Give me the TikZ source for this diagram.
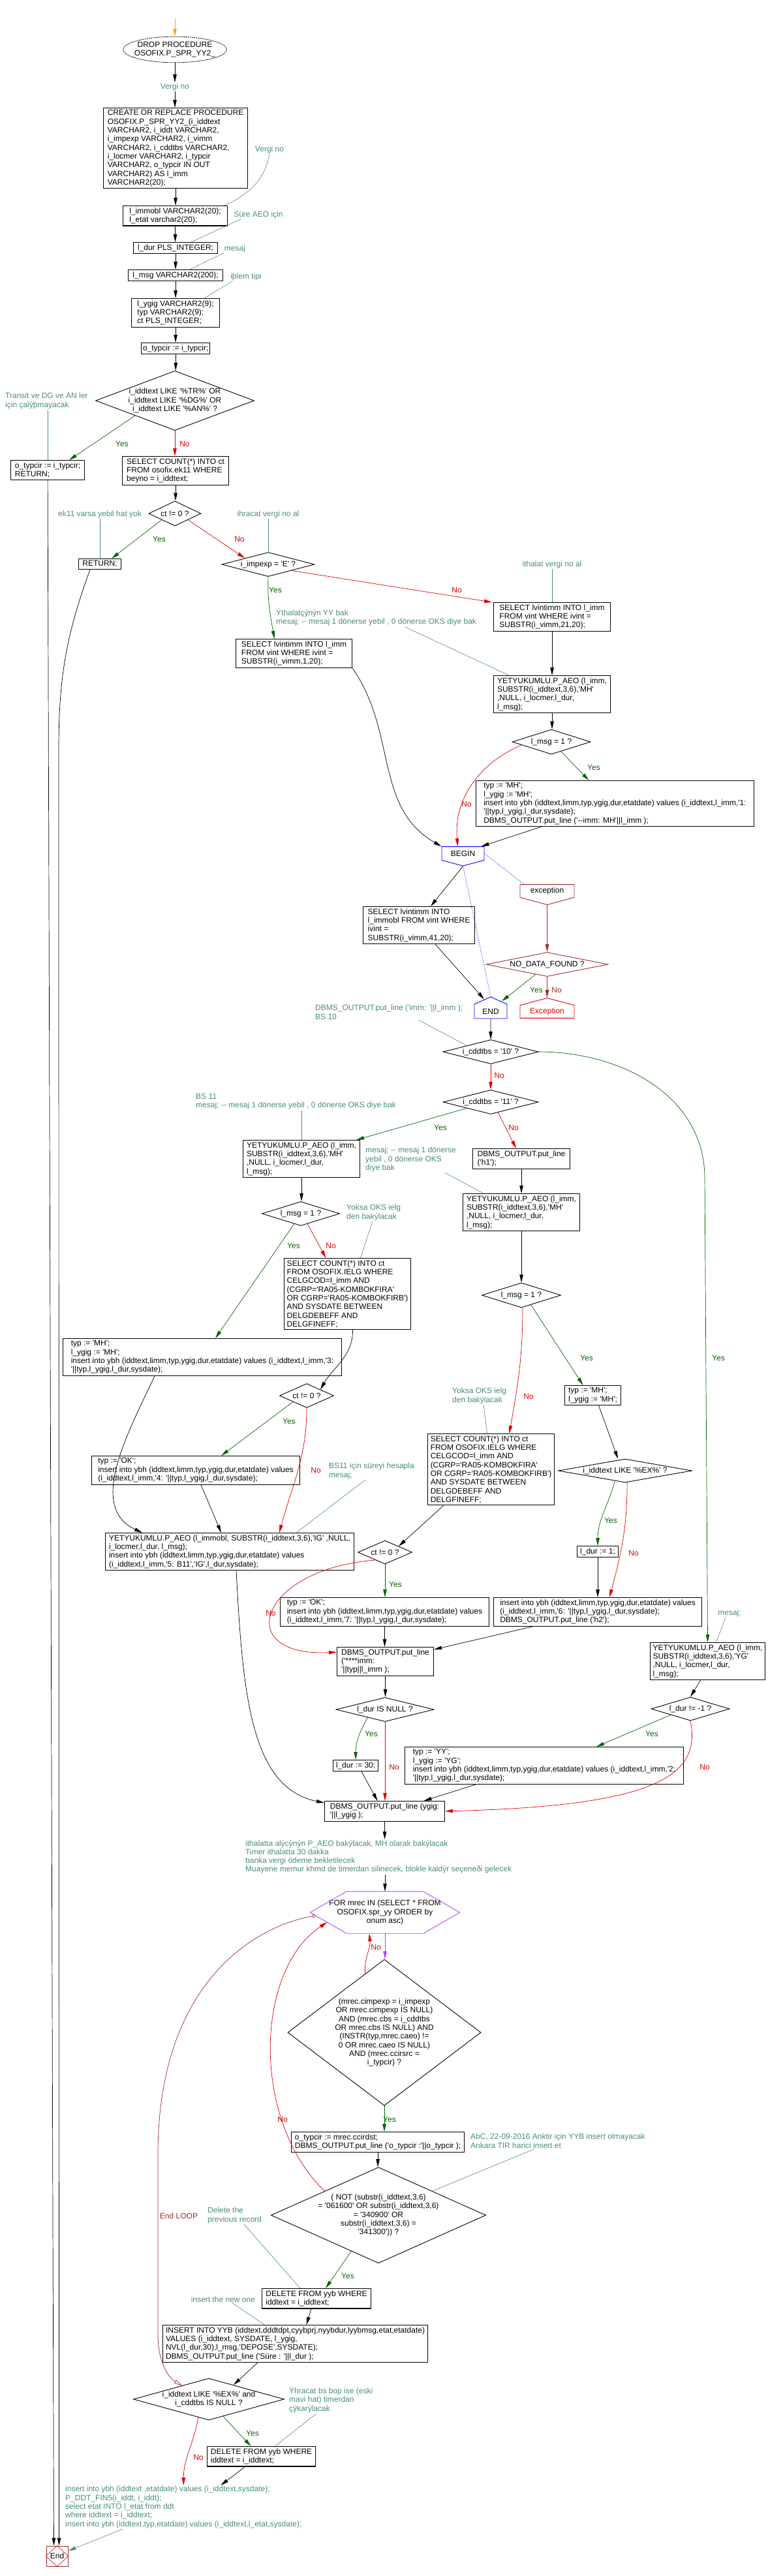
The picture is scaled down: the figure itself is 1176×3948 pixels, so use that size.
\documentclass[tikz,border=0pt]{standalone}
\usepackage{fontspec}
\setmainfont{Liberation Sans}[Ligatures=TeXOff]
\usetikzlibrary{arrows.meta,shapes.geometric,shapes.symbols}
\newcommand\fs{\fontsize{12}{13.3}\selectfont}
\definecolor{notec}{RGB}{72,140,118}
\definecolor{yesc}{RGB}{0,100,0}
\definecolor{noc}{RGB}{220,0,0}
\definecolor{excc}{RGB}{160,40,40}
\definecolor{forc}{RGB}{170,70,255}
\definecolor{startc}{RGB}{255,165,0}
\tikzset{
  box/.style={draw, line width=1.1pt, anchor=north west, align=left, inner xsep=2.5pt, inner ysep=3pt, font=\fs},
  dec/.style={draw, diamond, line width=0.9pt, align=center, inner sep=0pt, font=\fs},
  drop/.style={draw, ellipse, dash pattern=on 2pt off 1pt, line width=0.8pt, align=center, inner xsep=-6pt, inner ysep=2pt, font=\fs},
  pent/.style={signal, signal pointer angle=150, line width=0.9pt, inner sep=1pt, font=\fs},
  note/.style={text=notec, align=left, inner sep=1pt, font=\fs},
  lab/.style={inner sep=1pt, font=\fs},
  ylab/.style={lab, text=yesc},
  nlab/.style={lab, text=noc},
  flow/.style={-{Triangle[length=12pt,width=5.5pt]}, line width=0.7pt},
  yflow/.style={flow, draw=yesc},
  nflow/.style={flow, draw=noc},
  exflow/.style={flow, draw=excc},
  forflow/.style={flow, draw=forc},
  noteflow/.style={flow, draw=notec, line width=0.6pt},
  noteline/.style={draw=notec, line width=0.6pt},
  bdot/.style={draw=blue, dotted, line width=0.9pt},
  loopflow/.style={{Circle[open,length=5pt]}-{Triangle[open,length=12pt,width=6pt]}, draw=excc, line width=0.7pt}
}
\begin{document}
\begin{tikzpicture}[x=1pt,y=1pt]
        \useasboundingbox (0,0) rectangle (1176,-3948);
        \coordinate (start) at (268,-29);
        \coordinate (ygturn) at (1080,-1800);
        \coordinate (loopa) at (242,-3300);
        \coordinate (loopb) at (242,-3580);
        \coordinate (retb) at (90,-1150);
        \node[drop] (drop) at (268,-76) {DROP PROCEDURE\\OSOFIX.P\_SPR\_YY2\_};
        \node[note] (cverg1) at (268,-133) {Vergi no};
        \node[box, minimum width=221] (create) at (158,-165) {CREATE OR REPLACE PROCEDURE\\OSOFIX.P\_SPR\_YY2\_(i\_iddtext\\VARCHAR2, i\_iddt VARCHAR2,\\i\_impexp VARCHAR2, i\_vimm\\VARCHAR2, i\_cddtbs VARCHAR2,\\i\_locmer VARCHAR2, i\_typcir\\VARCHAR2, o\_typcir IN OUT\\VARCHAR2) AS l\_imm\\VARCHAR2(20);};
        \node[note] (cverg2) at (413,-229) {Vergi no};
        \node[box, minimum width=160] (immobl) at (188,-315) {l\_immobl VARCHAR2(20);\\l\_etat varchar2(20);};
        \node[note] (cdur) at (396,-329) {Süre AEO için};
        \node[box, minimum width=129] (ldur) at (204,-371) {l\_dur PLS\_INTEGER;};
        \node[note] (cmesaj) at (360,-381) {mesaj};
        \node[box, minimum width=145] (lmsg) at (196,-413) {l\_msg VARCHAR2(200);};
        \node[note] (ctip) at (377,-424) {iþlem tipi};
        \node[box, minimum width=135] (decl) at (201,-457) {l\_ygig VARCHAR2(9);\\typ VARCHAR2(9);\\ct PLS\_INTEGER;};
        \node[box, minimum width=105] (otyp) at (216,-525) {o\_typcir := i\_typcir;};
        \node[dec, minimum width=239, minimum height=90, aspect=2.66] (dtr) at (268,-614) {i\_iddtext LIKE '\%TR\%' OR\\i\_iddtext LIKE '\%DG\%' OR\\i\_iddtext LIKE '\%AN\%' ?};
        \node[note, anchor=north west] (ctransit) at (7,-601) {Transit ve DG ve AN ler\\için çalýþmayacak};
        \node[box, minimum width=113] (ret1) at (16,-705) {o\_typcir := i\_typcir;\\RETURN;};
        \node[box, minimum width=163] (cnt1) at (187,-699) {SELECT COUNT(*) INTO ct\\FROM osofix.ek11 WHERE\\beyno = i\_iddtext;};
        \node[dec, minimum width=80, minimum height=38, aspect=2.1] (dct1) at (268,-787) {ct != 0 ?};
        \node[note] (cek11) at (153,-788) {ek11 varsa yebil hat yok};
        \node[box, minimum width=65] (ret2) at (120,-856) {RETURN;};
        \node[dec, minimum width=142, minimum height=37, aspect=3.84] (dimp) at (411,-865) {i\_impexp = 'E' ?};
        \node[note] (cihr) at (411,-788) {ihracat vergi no al};
        \node[note] (cith) at (846,-865) {ithalat vergi no al};
        \node[box, minimum width=179] (sel21) at (756,-923) {SELECT lvintimm INTO l\_imm\\FROM vint WHERE ivint =\\SUBSTR(i\_vimm,21,20);};
        \node[note, anchor=north west] (cyy) at (422,-932) {Ýthalatçýnýn YY bak\\mesaj; -- mesaj 1 dönerse yebil , 0 dönerse OKS diye bak};
        \node[box, minimum width=178] (sel1) at (361,-979) {SELECT lvintimm INTO l\_imm\\FROM vint WHERE ivint =\\SUBSTR(i\_vimm,1,20);};
        \node[box, minimum width=179] (aeo1) at (756,-1035) {YETYUKUMLU.P\_AEO (l\_imm,\\SUBSTR(i\_iddtext,3,6),'MH'\\,NULL, i\_locmer,l\_dur,\\l\_msg);};
        \node[dec, minimum width=120, minimum height=38, aspect=3.16] (dmsg1) at (845,-1137) {l\_msg = 1 ?};
        \node[box, minimum width=426] (typ1) at (729,-1196) {typ := 'MH';\\l\_ygig := 'MH';\\insert into ybh (iddtext,limm,typ,ygig,dur,etatdate) values (i\_iddtext,l\_imm,'1:\\'||typ,l\_ygig,l\_dur,sysdate);\\DBMS\_OUTPUT.put\_line ('--imm: MH'||l\_imm );};
        \node[pent, signal to=south, draw=blue, minimum width=65, minimum height=26] (beginn) at (709.5,-1308) {BEGIN};
        \node[pent, signal to=south, draw=excc, minimum width=83, minimum height=27] (exc) at (838.5,-1365.5) {exception};
        \node[box, minimum width=171] (sel41) at (556,-1389) {SELECT lvintimm INTO\\l\_immobl FROM vint WHERE\\ivint =\\SUBSTR(i\_vimm,41,20);};
        \node[dec, draw=excc, minimum width=187, minimum height=37, aspect=5.05] (ndf) at (838.5,-1478) {NO\_DATA\_FOUND ?};
        \node[pent, signal to=north, signal pointer angle=132, draw=blue, minimum width=50, minimum height=28] (endn) at (752,-1550) {END};
        \node[pent, signal to=north, draw=noc, text=noc, minimum width=83, minimum height=27] (excend) at (838.5,-1550.5) {Exception};
        \node[note, anchor=north west] (cbs10) at (482,-1539) {DBMS\_OUTPUT.put\_line ('imm: '||l\_imm );\\BS 10};
        \node[dec, minimum width=146, minimum height=37, aspect=3.95] (d10) at (752,-1612) {i\_cddtbs = '10' ?};
        \node[dec, minimum width=146, minimum height=37, aspect=3.95] (d11) at (752,-1689) {i\_cddtbs = '11' ?};
        \node[note, anchor=north west] (cbs11) at (299,-1675) {BS 11\\mesaj; -- mesaj 1 dönerse yebil , 0 dönerse OKS diye bak};
        \node[box, minimum width=179] (aeo2) at (372,-1747) {YETYUKUMLU.P\_AEO (l\_imm,\\SUBSTR(i\_iddtext,3,6),'MH'\\,NULL, i\_locmer,l\_dur,\\l\_msg);};
        \node[box, minimum width=149] (h1) at (724,-1760) {DBMS\_OUTPUT.put\_line\\('h1');};
        \node[note, anchor=north west] (cmesaj3) at (559,-1757) {mesaj; -- mesaj 1 dönerse\\yebil , 0 dönerse OKS\\diye bak};
        \node[box, minimum width=179] (aeo3) at (709,-1829) {YETYUKUMLU.P\_AEO (l\_imm,\\SUBSTR(i\_iddtext,3,6),'MH'\\,NULL, i\_locmer,l\_dur,\\l\_msg);};
        \node[dec, minimum width=119, minimum height=37, aspect=3.2] (dmsg2) at (461,-1860) {l\_msg = 1 ?};
        \node[note, anchor=north west] (coks1) at (530,-1845) {Yoksa OKS ielg\\den bakýlacak};
        \node[box, minimum width=194] (cnt2) at (435,-1928) {SELECT COUNT(*) INTO ct\\FROM OSOFIX.IELG WHERE\\CELGCOD=l\_imm AND\\(CGRP='RA05-KOMBOKFIRA'\\OR CGRP='RA05-KOMBOKFIRB')\\AND SYSDATE BETWEEN\\DELGDEBEFF AND\\DELGFINEFF;};
        \node[dec, minimum width=121, minimum height=38, aspect=3.18] (dmsg3) at (799,-1985) {l\_msg = 1 ?};
        \node[box, minimum width=427] (typ3) at (96,-2051) {typ := 'MH';\\l\_ygig := 'MH';\\insert into ybh (iddtext,limm,typ,ygig,dur,etatdate) values (i\_iddtext,l\_imm,'3:\\'||typ,l\_ygig,l\_dur,sysdate);};
        \node[box, minimum width=86] (typ5) at (865,-2123) {typ := 'MH';\\l\_ygig := 'MH';};
        \node[note, anchor=north west] (coks2) at (692,-2126) {Yoksa OKS ielg\\den bakýlacak};
        \node[dec, minimum width=83, minimum height=37, aspect=2.24] (dct2) at (470,-2139) {ct != 0 ?};
        \node[box, minimum width=194] (cnt3) at (655,-2197) {SELECT COUNT(*) INTO ct\\FROM OSOFIX.IELG WHERE\\CELGCOD=l\_imm AND\\(CGRP='RA05-KOMBOKFIRA'\\OR CGRP='RA05-KOMBOKFIRB')\\AND SYSDATE BETWEEN\\DELGDEBEFF AND\\DELGFINEFF;};
        \node[box, minimum width=319] (typ4) at (140,-2231) {typ := 'OK';\\insert into ybh (iddtext,limm,typ,ygig,dur,etatdate) values\\(i\_iddtext,l\_imm,'4: '||typ,l\_ygig,l\_dur,sysdate);};
        \node[note, anchor=north west] (cbs11b) at (503,-2241) {BS11 için süreyi hesapla\\mesaj;};
        \node[dec, minimum width=205, minimum height=36, aspect=5.7] (dex) at (958,-2254) {i\_iddtext LIKE '\%EX\%' ?};
        \node[box, minimum width=381] (aeoig) at (161,-2349) {YETYUKUMLU.P\_AEO (l\_immobl, SUBSTR(i\_iddtext,3,6),'IG' ,NULL,\\i\_locmer,l\_dur, l\_msg);\\insert into ybh (iddtext,limm,typ,ygig,dur,etatdate) values\\(i\_iddtext,l\_imm,'5: B11','IG',l\_dur,sysdate);};
        \node[box, minimum width=63] (dur1) at (884,-2369) {l\_dur := 1;};
        \node[dec, minimum width=83, minimum height=36, aspect=2.3] (dct3) at (590,-2379) {ct != 0 ?};
        \node[box, minimum width=320] (typ7) at (429,-2448) {typ := 'OK';\\insert into ybh (iddtext,limm,typ,ygig,dur,etatdate) values\\(i\_iddtext,l\_imm,'7: '||typ,l\_ygig,l\_dur,sysdate);};
        \node[box, minimum width=319] (ins6) at (756,-2448) {insert into ybh (iddtext,limm,typ,ygig,dur,etatdate) values\\(i\_iddtext,l\_imm,'6: '||typ,l\_ygig,l\_dur,sysdate);\\DBMS\_OUTPUT.put\_line ('h2');};
        \node[note] (cmesyg) at (1118,-2472) {mesaj;};
        \node[box, minimum width=176] (aeoyg) at (996,-2517) {YETYUKUMLU.P\_AEO (l\_imm,\\SUBSTR(i\_iddtext,3,6),'YG'\\,NULL, i\_locmer,l\_dur,\\l\_msg);};
        \node[box, minimum width=148] (dbmsimm) at (516,-2524) {DBMS\_OUTPUT.put\_line\\('****imm:\\'||typ||l\_imm );};
        \node[dec, minimum width=150, minimum height=37, aspect=4.05] (dnull) at (590,-2620) {l\_dur IS NULL ?};
        \node[dec, minimum width=120, minimum height=36, aspect=3.33] (dm1) at (1058,-2619) {l\_dur != -1 ?};
        \node[box, minimum width=427] (typyy) at (620,-2677) {typ := 'YY';\\l\_ygig := 'YG';\\insert into ybh (iddtext,limm,typ,ygig,dur,etatdate) values (i\_iddtext,l\_imm,'2:\\'||typ,l\_ygig,l\_dur,sysdate);};
        \node[box, minimum width=69] (dur30) at (510,-2697) {l\_dur := 30;};
        \node[box, minimum width=184] (ygig) at (497,-2760) {DBMS\_OUTPUT.put\_line (ygig:\\'||l\_ygig );};
        \node[note, anchor=north west] (cith2) at (375,-2819) {ithalatta alýcýnýn P\_AEO bakýlacak, MH olarak bakýlacak\\Timer ithalatta 30 dakka\\banka vergi ödeme bekletilecek\\Muayene memur khmd de timerdan silinecek, blokle kaldýr seçeneði gelecek};
        \node[align=center, minimum width=229, minimum height=64, inner sep=0pt, font=\fs] (forl) at (590,-2931) {FOR mrec IN (SELECT * FROM\\OSOFIX.spr\_yy ORDER by\\onum asc)};
        \draw[draw=forc, line width=0.9pt] (forl.west) -- ([xshift=56]forl.north west) -- ([xshift=-56]forl.north east) -- (forl.east) -- ([xshift=-56]forl.south east) -- ([xshift=56]forl.south west) -- cycle;
        \node[dec, minimum width=296, minimum height=224, aspect=1.32] (dmrec) at (589,-3115) {(mrec.cimpexp = i\_impexp\\OR mrec.cimpexp IS NULL)\\AND (mrec.cbs = i\_cddtbs\\OR mrec.cbs IS NULL) AND\\(INSTR(typ,mrec.caeo) !=\\0 OR mrec.caeo IS NULL)\\AND (mrec.ccirsrc =\\i\_typcir) ?};
        \node[box, minimum width=265] (otyp2) at (446,-3267) {o\_typcir := mrec.ccirdst;\\DBMS\_OUTPUT.put\_line ('o\_typcir :'||o\_typcir );};
        \node[note, anchor=north west] (cabc) at (720,-3269) {AbC, 22-09-2016 Anktir için YYB insert olmayacak\\Ankara TIR harici insert et};
        \node[dec, minimum width=323, minimum height=144, aspect=2.24] (dnot) at (580,-3395) {( NOT (substr(i\_iddtext,3,6)\\= '061600' OR substr(i\_iddtext,3,6)\\= '340900' OR\\substr(i\_iddtext,3,6) =\\'341300')) ?};
        \node[note, anchor=north west] (cdel) at (317,-3382) {Delete the\\previous record};
        \node[box, minimum width=167] (del1) at (401,-3507) {DELETE FROM yyb WHERE\\iddtext = i\_iddtext;};
        \node[note] (cins) at (342,-3524) {insert the new one};
        \node[box, minimum width=406] (insyyb) at (249,-3563) {INSERT INTO YYB (iddtext,dddtdpt,cyybprj,nyybdur,lyybmsg,etat,etatdate)\\VALUES (i\_iddtext, SYSDATE, l\_ygig,\\NVL(l\_dur,30),l\_msg,'DEPOSE',SYSDATE);\\DBMS\_OUTPUT.put\_line ('Süre : '||l\_dur );};
        \node[dec, minimum width=231, minimum height=64, aspect=3.6] (dfin) at (320,-3677) {i\_iddtext LIKE '\%EX\%' and\\i\_cddtbs IS NULL ?};
        \node[note, anchor=north west] (cexp) at (442,-3657) {Ýhracat bs bop ise (eski\\mavi hat) timerdan\\çýkarýlacak};
        \node[box, minimum width=166] (del2) at (317,-3749) {DELETE FROM yyb WHERE\\iddtext = i\_iddtext;};
        \node[note, anchor=north west] (cfinal) at (99,-3809) {insert into ybh (iddtext ,etatdate) values (i\_iddtext,sysdate);\\P\_DDT\_FIN5(i\_iddt, i\_iddt);\\select etat INTO l\_etat from ddt\\where iddtext = i\_iddtext;\\insert into ybh (iddtext,typ,etatdate) values (i\_iddtext,l\_etat,sysdate);};
        \node[draw=excc, line width=1pt, minimum width=33, minimum height=31, inner sep=0pt, font=\fs] (endd) at (87.5,-3917.5) {End};
        \draw[draw=noc, line width=0.6pt] (endd.north) -- (endd.east) -- (endd.south) -- (endd.west) -- cycle;
        \node[ylab] (yes1) at (187,-680) {Yes};
        \node[nlab] (no1) at (283,-680) {No};
        \node[ylab] (yes2) at (244,-826) {Yes};
        \node[nlab] (no2) at (367,-826) {No};
        \node[ylab] (yes3) at (422,-904) {Yes};
        \node[nlab] (no3) at (700,-904) {No};
        \node[ylab] (yes4) at (910,-1176) {Yes};
        \node[nlab] (no4) at (715,-1232) {No};
        \node[ylab] (yes5) at (822,-1517) {Yes};
        \node[lab, text=excc] (no5) at (853,-1517) {No};
        \node[nlab] (no6) at (765,-1648) {No};
        \node[ylab] (yes6) at (1101,-2081) {Yes};
        \node[ylab] (yes7) at (675,-1728) {Yes};
        \node[nlab] (no7) at (787,-1728) {No};
        \node[ylab] (yes8) at (450,-1909) {Yes};
        \node[nlab] (no8) at (507,-1909) {No};
        \node[ylab] (yes9) at (443,-2178) {Yes};
        \node[nlab] (no9) at (484,-2253) {No};
        \node[ylab] (yes10) at (899,-2081) {Yes};
        \node[nlab] (no10) at (810,-2140) {No};
        \node[ylab] (yes11) at (936,-2330) {Yes};
        \node[nlab] (no11) at (971,-2380) {No};
        \node[ylab] (yes12) at (606,-2428) {Yes};
        \node[nlab] (no12) at (415,-2472) {No};
        \node[ylab] (yes13) at (569,-2657) {Yes};
        \node[nlab] (no13) at (604,-2708) {No};
        \node[ylab] (yes14) at (999,-2657) {Yes};
        \node[nlab] (no14) at (1080,-2708) {No};
        \node[nlab] (no15) at (576,-2984) {No};
        \node[ylab] (yes15) at (597,-3248) {Yes};
        \node[nlab] (no16) at (433,-3248) {No};
        \node[ylab] (yes16) at (533,-3488) {Yes};
        \node[ylab] (yes17) at (387,-3729) {Yes};
        \node[nlab] (no17) at (304,-3766) {No};
        \node[lab, text=excc] (endloop) at (274,-3396) {End LOOP};
        \draw[flow, draw=startc] (start) -- (drop);
        \draw[flow] (drop) -- (cverg1);
        \draw[flow] (cverg1) -- (cverg1 |- create.north);
        \draw[noteline] (cverg2.south) to[out=-100,in=25] ([xshift=-5]immobl.north east);
        \draw[flow] (create) -- (create |- immobl.north);
        \draw[noteline] ([xshift=12]cdur.south west) -- ([xshift=24]ldur.north);
        \draw[flow] (immobl) -- (immobl |- ldur.north);
        \draw[noteline] (cmesaj.south west) -- ([xshift=22]lmsg.north);
        \draw[flow] (ldur) -- (ldur |- lmsg.north);
        \draw[noteline] ([xshift=4]ctip.south west) -- ([xshift=44]decl.north);
        \draw[flow] (lmsg) -- (lmsg |- decl.north);
        \draw[flow] (decl) -- (decl |- otyp.north);
        \draw[flow] (otyp) -- (otyp |- dtr.north);
        \draw[noteline] (ret1.north |- ctransit.south) -- (ret1.north);
        \draw[yflow] (dtr.south west) -- ([xshift=33]ret1.north);
        \draw[nflow] (dtr) -- (dtr |- cnt1.north);
        \draw[flow] (cnt1) -- (cnt1 |- dct1.north);
        \draw[noteline] (cek11) -- (cek11 |- ret2.north);
        \draw[yflow] (dct1.south west) -- ([xshift=18]ret2.north);
        \draw[nflow] (dct1.south east) -- (dimp.north west);
        \draw[noteline] (cihr) -- (dimp.north);
        \draw[yflow] (dimp.south) to[out=-92,in=100] ([xshift=-30]sel1.north);
        \draw[nflow] (dimp.south east) -- ([xshift=-2]sel21.north west);
        \draw[noteline] (cith) -- (cith |- sel21.north);
        \draw[noteline] ([xshift=198]cyy.south west) -- ([xshift=24]aeo1.north west);
        \draw[flow] (sel21) -- (sel21 |- aeo1.north);
        \draw[flow] (aeo1) -- (aeo1 |- dmsg1.north);
        \draw[yflow] (dmsg1.-45) -- ([xshift=-40]typ1.north);
        \draw[nflow] (dmsg1.186) to[out=203,in=95] ([xshift=-8]beginn.north);
        \draw[flow] (sel1.south east) to[out=-55,in=150] ([xshift=-33]beginn.north);
        \draw[flow] ([xshift=-113]typ1.south) -- ([xshift=28]beginn.north);
        \draw[flow] (beginn.south) -- ([xshift=18]sel41.north);
        \draw[bdot] (beginn.east) -- ([xshift=-36]exc.north);
        \draw[bdot] (beginn.south) -- (endn.north);
        \draw[exflow] (exc) -- (ndf);
        \draw[yflow] (ndf.-139) -- ([xshift=17,yshift=-7]endn.north);
        \draw[exflow] (ndf) -- (excend);
        \draw[flow] ([xshift=25]sel41.south) -- ([xshift=-10,yshift=-4]endn.north);
        \draw[flow] (endn) -- (d10);
        \draw[noteline] ([xshift=160]cbs10.south west) -- (d10.north west);
        \draw[yflow] (d10.east) to[out=0,in=92] (ygturn) -- (aeoyg.north);
        \draw[nflow] (d10) -- (d11);
        \draw[noteline] (aeo2.north |- cbs11.south) -- (aeo2.north);
        \draw[yflow] (d11.south west) -- ([xshift=-6]aeo2.north east);
        \draw[nflow] (d11.-55) -- ([xshift=-8]h1.north);
        \draw[noteline] ([xshift=123]cmesaj3.south west) -- ([xshift=32]aeo3.north west);
        \draw[flow] (h1) -- (h1 |- aeo3.north);
        \draw[flow] (aeo3) -- (aeo3 |- dmsg3.north);
        \draw[flow] (aeo2) -- (aeo2 |- dmsg2.north);
        \draw[noteline] ([xshift=41]coks1.south west) -- ([xshift=20]cnt2.north);
        \draw[yflow] (dmsg2.-123) -- ([xshift=20]typ3.north);
        \draw[nflow] (dmsg2.-57) -- ([xshift=-33]cnt2.north);
        \draw[flow] ([xshift=8]cnt2.south) to[out=-90,in=60] (dct2.north east);
        \draw[yflow] (dct2.south west) -- ([xshift=39]typ4.north);
        \draw[nflow] (dct2.south) to[out=-90,in=75] ([xshift=76]aeoig.north);
        \draw[noteline] ([xshift=57]cbs11b.south west) -- ([xshift=102]aeoig.north);
        \draw[flow] ([xshift=-73]typ3.south) to[out=-115,in=155] ([xshift=57]aeoig.north west);
        \draw[flow] ([xshift=8]typ4.south) -- ([xshift=-13]aeoig.north);
        \draw[yflow] (dmsg3.-45) -- ([xshift=-15]typ5.north);
        \draw[nflow] ([xshift=2]dmsg3.south) to[out=-90,in=80] ([xshift=28]cnt3.north);
        \draw[noteline] ([xshift=49]coks2.south west) -- ([xshift=-6]cnt3.north);
        \draw[flow] ([xshift=9]typ5.south) -- ([xshift=-11]dex.north);
        \draw[yflow] (dex.-135) to[out=-105,in=90] (dur1.north);
        \draw[nflow] (dex.-80) to[out=-90,in=75] ([xshift=18]ins6.north);
        \draw[flow] (dur1) -- (dur1 |- ins6.north);
        \draw[flow] ([xshift=-73]cnt3.south) -- (dct3.north east);
        \draw[yflow] (dct3) -- (dct3 |- typ7.north);
        \draw[nflow] (dct3.-141) .. controls (395,-2405) and (355,-2540) .. ([yshift=-8]dbmsimm.north west);
        \draw[flow] (typ7) -- (typ7 |- dbmsimm.north);
        \draw[flow] ([xshift=-100]ins6.south) -- ([yshift=-4]dbmsimm.north east);
        \draw[flow] (dbmsimm) -- (dbmsimm |- dnull.north);
        \draw[noteline] ([xshift=-6]cmesyg.south) -- ([xshift=13]aeoyg.north);
        \draw[flow] ([xshift=-11]aeoyg.south) -- (dm1.north);
        \draw[yflow] (dnull.-155) to[out=-120,in=90] (dur30.north);
        \draw[nflow] (dnull) -- (dnull |- ygig.north);
        \draw[flow] ([xshift=9]dur30.south) -- ([xshift=-11]ygig.north);
        \draw[yflow] (dm1.-163) -- ([xshift=80]typyy.north);
        \draw[nflow] (dm1.south) .. controls (1075,-2720) and (1010,-2768) .. (ygig.east);
        \draw[flow] ([xshift=-105]typyy.south) -- ([xshift=60]ygig.north);
        \draw[flow] ([xshift=10]aeoig.south) .. controls (372,-2600) and (385,-2740) .. ([yshift=-3]ygig.north west);
        \draw[flow] (ygig) -- (ygig |- cith2.north);
        \draw[flow] (forl.north |- cith2.south) -- (forl.north);
        \draw[forflow] (forl) -- (forl |- dmrec.north);
        \draw[nflow] (dmrec.108) to[out=95,in=-85] ([xshift=-24]forl.south);
        \draw[loopflow] ([xshift=8,yshift=-5]forl.west) .. controls (400,-2950) and (243,-3030) .. (loopa) -- (loopb) .. controls (243,-3625) and (260,-3645) .. (dfin.153);
        \draw[yflow] (dmrec) -- (dmrec |- otyp2.north);
        \draw[noteline] ([xshift=99]cabc.south west) -- (dnot.north east);
        \draw[flow] (otyp2) -- (otyp2 |- dnot.north);
        \draw[nflow] (dnot.north west) .. controls (385,-3250) and (390,-3020) .. ([xshift=26,yshift=-15]forl.west);
        \draw[yflow] (dnot.-127) -- ([xshift=14]del1.north);
        \draw[noteline] ([xshift=57]cdel.south west) -- ([xshift=-25]del1.north);
        \draw[flow] ([xshift=-8]del1.south) -- ([xshift=17]insyyb.north);
        \draw[noteline] ([xshift=14]cins.south) -- ([xshift=-47]insyyb.north);
        \draw[flow] ([xshift=-58]insyyb.south) -- (dfin.30);
        \draw[noteline] ([xshift=43]cexp.south west) -- ([xshift=21]del2.north);
        \draw[yflow] (dfin.-50) -- ([xshift=-16]del2.north);
        \draw[nflow] (dfin.-120) to[out=-100,in=90] (cfinal.north);
        \draw[flow] ([xshift=-25]del2.south) -- ([xshift=57]cfinal.north);
        \draw[noteflow] ([xshift=-93]cfinal.south) -- ([yshift=8]endd.east);
        \draw[flow] (ret1) -- ([xshift=-5]endd.north);
        \draw[flow] ([xshift=-15]ret2.south) to[out=-110,in=90] (retb) -- ([xshift=3]endd.north);
\end{tikzpicture}
\end{document}
